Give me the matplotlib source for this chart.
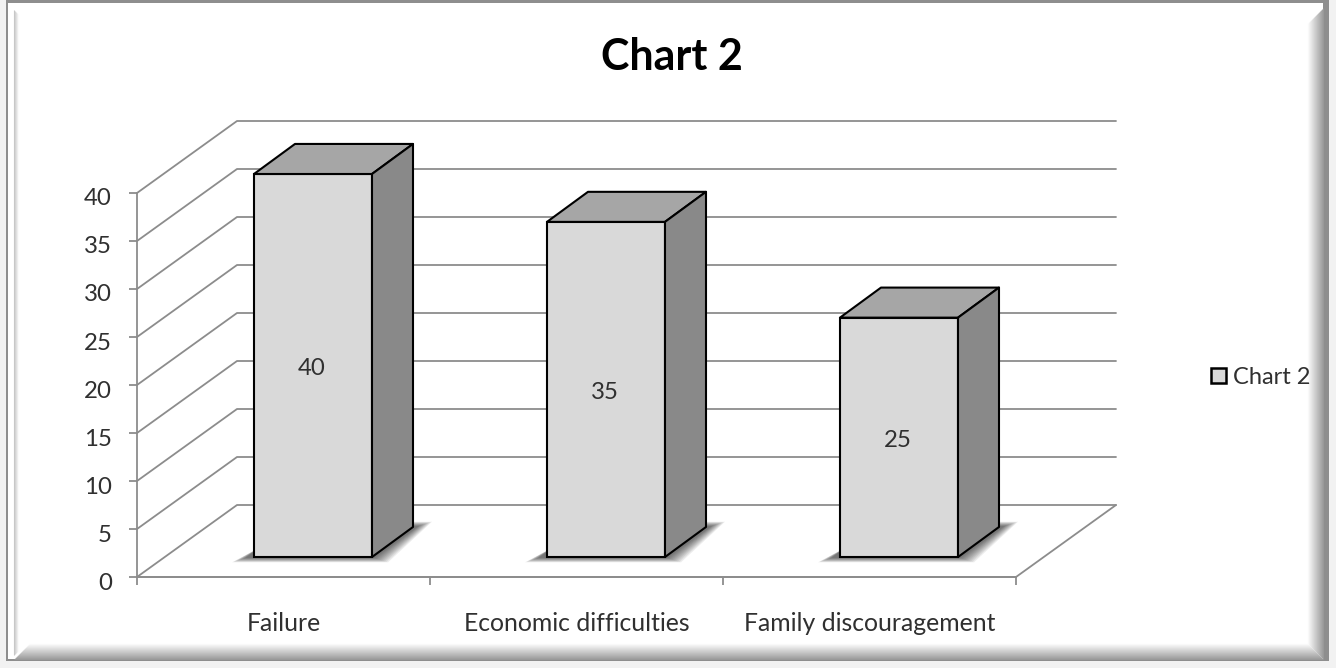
import matplotlib
matplotlib.use("Agg")
import matplotlib.pyplot as plt
from matplotlib.patches import Polygon, Rectangle
from matplotlib.transforms import ScaledTranslation

categories = ["Failure", "Economic difficulties", "Family discouragement"]
values = [40, 35, 25]
series_name = "Chart 2"
y_ticks = [0, 5, 10, 15, 20, 25, 30, 35, 40]

W, H = 1336, 668
FRONT = "#d9d9d9"
TOP = "#a6a6a6"
SIDE = "#898989"
GRID = "#8c8c8c"
TEXT = "#303030"
FONT = "Lato"
LABEL_SIZE = 17.3

fig = plt.figure(figsize=(W / 100, H / 100), dpi=100, facecolor="#f2f2f2")

# Picture-frame border, drawn in pixel coordinates behind the plot
bg = fig.add_axes([0, 0, 1, 1], zorder=0)
bg.set_xlim(0, W)
bg.set_ylim(H, 0)
bg.axis("off")
bg.add_patch(Rectangle((0, 0), W, H, fc="#f2f2f2", ec="none"))
bg.add_patch(Rectangle((6, 0), 1323, 661, fc="#8e8e8e", ec="none"))
bg.add_patch(Rectangle((8, 3), 1315, 656, fc="#ffffff", ec="none"))
# Bevel shading along the inner edges
for i in range(16):
    g = 0.60 + 0.025 * i
    c = (g, g, g)
    bg.plot([1322.5 - i] * 2, [8 + i, 658.5 - i], color=c, lw=0.8, solid_capstyle="butt")
    bg.plot([14 + i, 1323 - i], [658.5 - i] * 2, color=c, lw=0.8, solid_capstyle="butt")
for i in range(5):
    g = 0.78 + 0.05 * i
    bg.plot([13.5 + i] * 2, [10 + i, 655 - i], color=(g, g, g), lw=0.8, solid_capstyle="butt")

# Front plane of the plot box: categories across, values upward
ax = fig.add_axes([137 / W, (H - 577) / H, 879 / W, 384 / H], zorder=1)
ax.patch.set_visible(False)
ax.set_xlim(-0.5, 2.5)
ax.set_ylim(0, 40)

# Projection depths, in category widths and value units
wall_dx = 100 / 293
wall_dy = 7.5
bar_dx = 41 / 293
bar_dy = 3.13
bar_x_shift = 29.5 / 293
bar_base = 2.08
bar_width = 118 / 293
bar_scale = 0.9975

x_left, x_right = ax.get_xlim()
line_kw = dict(color=GRID, lw=1.3, clip_on=False, zorder=1, solid_capstyle="round")

# Back wall gridlines and the left wall diagonals
for t in y_ticks:
    ax.plot([x_left, x_left + wall_dx, x_right + wall_dx],
            [t, t + wall_dy, t + wall_dy], **line_kw)
# Floor edges
ax.plot([x_left, x_right, x_right + wall_dx], [0, 0, wall_dy], **line_kw)

for i, v in enumerate(values):
    x0 = i + bar_x_shift - bar_width / 2
    x1 = x0 + bar_width
    b = bar_base
    t = b + v * bar_scale

    # Soft shadow on the floor, built from stacked translucent layers
    for k in range(10):
        g = k * 0.005
        gy = k * 0.05
        ax.add_patch(Polygon(
            [(x0 - 0.03 - g, b - 0.1 - gy), (x1 + 0.01 + g, b - 0.1 - gy),
             (x1 + bar_dx + 0.02 + g, b + bar_dy + 0.1 + gy),
             (x1 - 0.1, b + bar_dy + 0.1 + gy), (x0 + 0.02, b + 1.0)],
            closed=True, fc="black", ec="none", alpha=0.07, clip_on=False, zorder=1.5))

    edge = dict(ec="black", lw=1.5, joinstyle="round", clip_on=False, zorder=3)
    ax.bar(i + bar_x_shift, v * bar_scale, width=bar_width, bottom=b, color=FRONT,
           edgecolor="black", linewidth=1.5, clip_on=False, zorder=3,
           label=series_name if i == 0 else None)
    ax.add_patch(Polygon([(x0, t), (x1, t), (x1 + bar_dx, t + bar_dy), (x0 + bar_dx, t + bar_dy)],
                         closed=True, fc=TOP, **edge))
    ax.add_patch(Polygon([(x1, b), (x1 + bar_dx, b + bar_dy), (x1 + bar_dx, t + bar_dy), (x1, t)],
                         closed=True, fc=SIDE, **edge))
    ax.text(i + bar_x_shift - 0.003, b + v * bar_scale / 2 - 0.3, str(v), ha="center", va="center",
            fontsize=LABEL_SIZE, family=FONT, color=TEXT, zorder=4)

# Axis spines and ticks
for s in ("top", "right"):
    ax.spines[s].set_visible(False)
for s in ("left", "bottom"):
    ax.spines[s].set_color(GRID)
    ax.spines[s].set_linewidth(1.3)
    ax.spines[s].set_zorder(1)

ax.set_yticks(y_ticks)
ax.set_xticks(range(len(categories)))
ax.set_xticklabels(categories)
ax.set_xticks([-0.5, 0.5, 1.5, 2.5], minor=True)
ax.tick_params(axis="x", which="major", length=0, pad=25.5, labelsize=17.8, labelcolor=TEXT)
ax.tick_params(axis="x", which="minor", length=6, width=1.3, color=GRID)
ax.tick_params(axis="y", length=6, width=1.3, color=GRID, pad=12, labelsize=LABEL_SIZE, labelcolor=TEXT)
nudge = ScaledTranslation(0, -4 / 100, fig.dpi_scale_trans)
for lab in ax.get_yticklabels():
    lab.set_transform(lab.get_transform() + nudge)
for lab in ax.get_xticklabels() + ax.get_yticklabels():
    lab.set_family(FONT)

fig.text(672 / W, 1 - 57 / H, series_name, ha="center", va="center",
         fontsize=31, fontweight="bold", family=FONT, color="black")

leg = ax.legend(loc="center left", bbox_to_anchor=(1211 / W, 1 - 377 / H),
                bbox_transform=fig.transFigure, frameon=False, borderpad=0, borderaxespad=0,
                handlelength=0.62, handleheight=0.62, handletextpad=0.3,
                prop={"family": FONT, "size": 17}, labelcolor=TEXT)
for h in leg.get_patches():
    h.set_linewidth(1.8)

fig.savefig("out.png", dpi=100, facecolor=fig.get_facecolor())
